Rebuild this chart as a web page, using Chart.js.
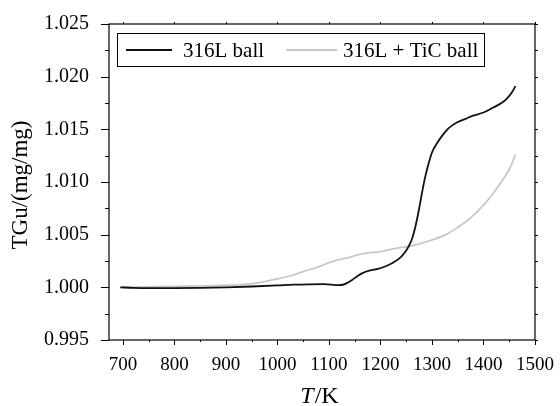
<!DOCTYPE html>
<html>
<head>
<meta charset="utf-8">
<script src="https://cdn.jsdelivr.net/npm/chart.js@4.4.1/dist/chart.umd.min.js"></script>
<style>
html,body{margin:0;padding:0;background:#fff;}
canvas{display:block;}
</style>
</head>
<body>
<canvas id="c" width="560" height="406"></canvas>
<script>
// ---- data ----
const seriesNames = ["316L ball", "316L + TiC ball"];
const tempBlack = [695,720,750,800,850,900,950,1000,1030,1060,1090,1105,1115,1125,1135,1145,1155,1165,1180,1195,1210,1225,1240,1250,1256,1262,1268,1274,1280,1286,1292,1300,1310,1320,1330,1340,1350,1365,1380,1400,1420,1435,1445,1455,1462];
const valBlack  = [1.0000,0.99995,0.99993,0.99993,0.99995,1.0000,1.00008,1.00018,1.00025,1.00029,1.00030,1.00026,1.00021,1.00022,1.00040,1.00070,1.00105,1.00135,1.00160,1.00175,1.00200,1.00235,1.0029,1.0035,1.0040,1.0047,1.0058,1.0072,1.0088,1.0103,1.0115,1.0128,1.0137,1.0144,1.0150,1.0154,1.0157,1.0160,1.0163,1.0166,1.0171,1.0175,1.0179,1.0185,1.0191];
const tempGray = [695,750,800,850,900,940,975,1000,1026,1050,1077,1103,1135,1167,1200,1230,1257,1280,1300,1327,1350,1375,1400,1420,1440,1452,1462];
const valGray  = [1.0000,1.00005,1.0001,1.00013,1.0002,1.0003,1.00055,1.0008,1.0011,1.0015,1.0019,1.0024,1.0028,1.0032,1.0034,1.0037,1.0039,1.0042,1.0045,1.0050,1.0057,1.0066,1.0078,1.0090,1.0104,1.0114,1.0126];
const xTicks = [700,800,900,1000,1100,1200,1300,1400,1500];
const xMinorTicks = [750,850,950,1050,1150,1250,1350,1450];
const yTicks = [0.995,1.000,1.005,1.010,1.015,1.020,1.025];
const yMinorTicks = [0.9975,1.0025,1.0075,1.0125,1.0175,1.0225];
const xTitleItalic = "T", xTitleRest = "/K";
const yTitle = "TGu/(mg/mg)";

const colors = ["#111111", "#c8c8c8"];
const serif = "'Liberation Serif', 'Times New Roman', serif";

function pts(xs, ys){ return xs.map((x,i)=>({x:x, y:ys[i]})); }

const decor = {
  id: 'decor',
  afterDraw(chart){
    const ctx = chart.ctx, a = chart.chartArea;
    const xs = chart.scales.x, ys = chart.scales.y;
    ctx.save();
    ctx.strokeStyle = '#000';
    ctx.lineWidth = 1.2;
    ctx.strokeRect(a.left, a.top, a.right - a.left, a.bottom - a.top);
    ctx.lineWidth = 1;
    ctx.beginPath();
    yTicks.forEach(v=>{ const y = Math.round(ys.getPixelForValue(v))+0.5;
      ctx.moveTo(a.left-8, y); ctx.lineTo(a.left, y);
      ctx.moveTo(a.right, y); ctx.lineTo(a.right+3, y); });
    yMinorTicks.forEach(v=>{ const y = Math.round(ys.getPixelForValue(v))+0.5;
      ctx.moveTo(a.left-4, y); ctx.lineTo(a.left, y);
      ctx.moveTo(a.right, y); ctx.lineTo(a.right+3, y); });
    xTicks.forEach(v=>{ const x = Math.round(xs.getPixelForValue(v))+0.5;
      ctx.moveTo(x, a.bottom); ctx.lineTo(x, a.bottom+5);
      ctx.moveTo(x, a.top); ctx.lineTo(x, a.top-2); });
    xMinorTicks.forEach(v=>{ const x = Math.round(xs.getPixelForValue(v))+0.5;
      ctx.moveTo(x, a.bottom); ctx.lineTo(x, a.bottom+2); });
    ctx.stroke();

    // legend
    const lx = a.left + 8, ly = a.top + 9, lw = 367, lh = 33;
    ctx.lineWidth = 1;
    ctx.strokeRect(lx+0.5, ly+0.5, lw, lh);
    const cy = ly + 17;
    ctx.font = "21px " + serif;
    ctx.textBaseline = 'middle';
    ctx.fillStyle = '#000';
    const items = [{x1:lx+9, x2:lx+55, tx:lx+66}, {x1:lx+169, x2:lx+220, tx:lx+226}];
    chart.data.datasets.forEach((ds,i)=>{
      const it = items[i];
      ctx.strokeStyle = ds.borderColor; ctx.lineWidth = 1.8;
      ctx.beginPath(); ctx.moveTo(it.x1, cy); ctx.lineTo(it.x2, cy); ctx.stroke();
      ctx.fillText(ds.label, it.tx, cy+1);
    });

    // axis titles
    ctx.fillStyle = '#000';
    ctx.textBaseline = 'alphabetic';
    ctx.font = "italic 24px " + serif;
    const w1 = ctx.measureText(xTitleItalic).width;
    ctx.font = "24px " + serif;
    const w2 = ctx.measureText(xTitleRest).width;
    const cx = (a.left + a.right)/2 - 3;
    const sx = cx - (w1 + w2)/2;
    ctx.font = "italic 24px " + serif;
    ctx.fillText(xTitleItalic, sx, 403);
    ctx.font = "24px " + serif;
    ctx.fillText(xTitleRest, sx + w1 + 1, 403);

    ctx.translate(27, 185);
    ctx.rotate(-Math.PI/2);
    ctx.font = "23px " + serif;
    ctx.textAlign = 'center';
    ctx.fillText(yTitle, 0, 0);
    ctx.restore();
  }
};

new Chart(document.getElementById('c'), {
  type: 'line',
  data: {
    datasets: [
      {label: seriesNames[0], data: pts(tempBlack, valBlack), borderColor: colors[0], borderWidth: 1.8, pointRadius: 0, cubicInterpolationMode: 'monotone', fill: false},
      {label: seriesNames[1], data: pts(tempGray, valGray), borderColor: colors[1], borderWidth: 1.8, pointRadius: 0, cubicInterpolationMode: 'monotone', fill: false}
    ]
  },
  options: {
    responsive: false,
    animation: false,
    events: [],
    layout: {padding: {left: 0, top: 16, right: 20, bottom: 0}},
    plugins: {legend: {display: false}, tooltip: {enabled: false}},
    scales: {
      x: {
        type: 'linear', min: 673, max: 1500,
        afterBuildTicks: s => { s.ticks = xTicks.map(v=>({value:v})); },
        afterFit: s => { s.height = 66; },
        grid: {display: false}, border: {display: false},
        ticks: {color: '#000', font: {family: serif, size: 19}, padding: 6, maxRotation: 0, autoSkip: false, callback: v => String(v)}
      },
      y: {
        type: 'linear', min: 0.995, max: 1.025,
        afterBuildTicks: s => { s.ticks = yTicks.map(v=>({value:v})); },
        afterFit: s => { s.width = 109; },
        grid: {display: false}, border: {display: false},
        ticks: {color: '#000', font: {family: serif, size: 20}, padding: 12, callback: v => v.toFixed(3)}
      }
    }
  },
  plugins: [decor]
});
</script>
</body>
</html>
